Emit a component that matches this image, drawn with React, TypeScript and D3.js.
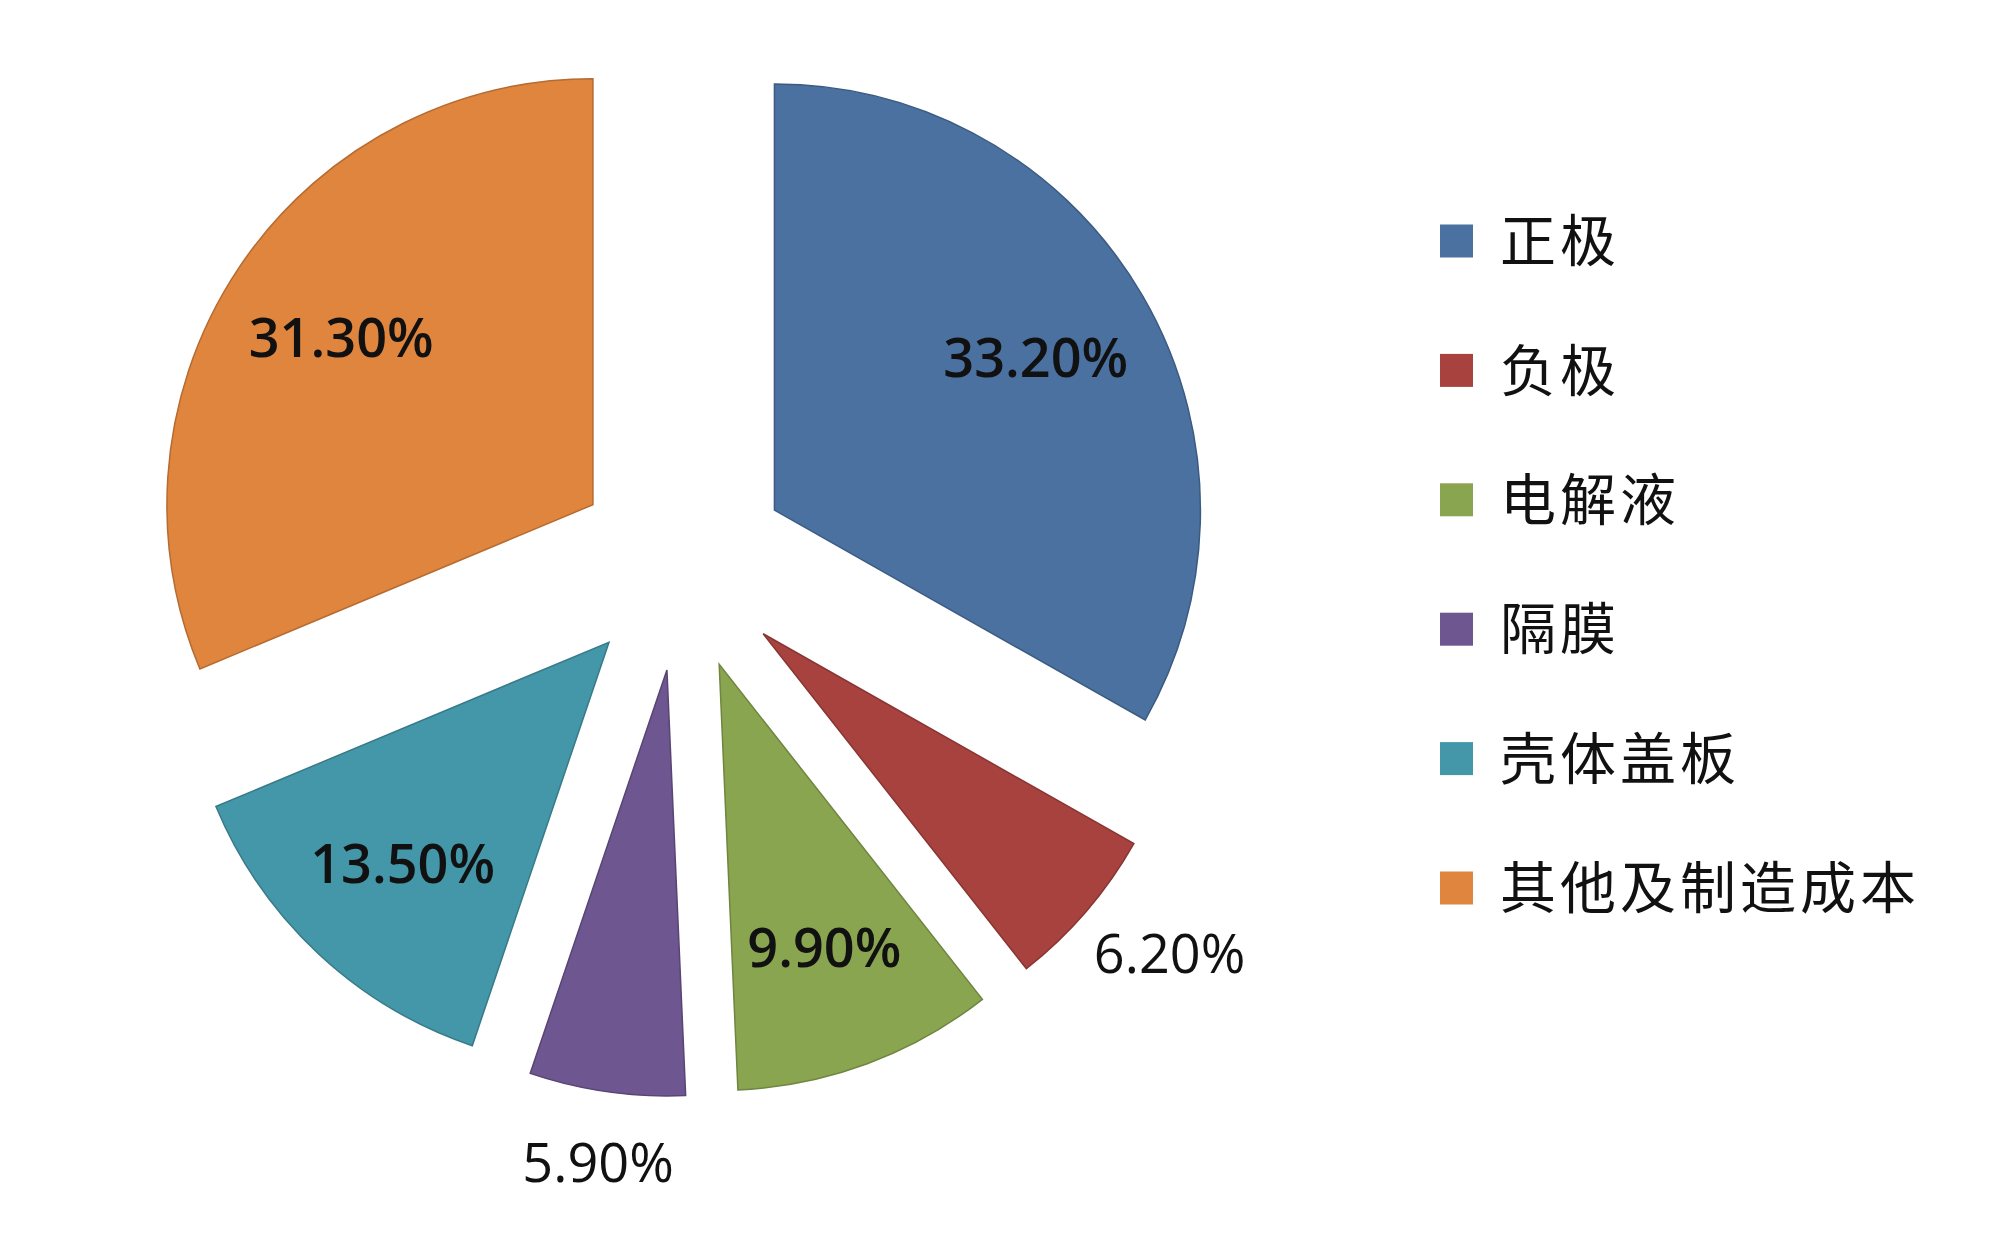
import * as d3 from "d3";

const categories = ["正极", "负极", "电解液", "隔膜", "壳体盖板", "其他及制造成本"];
const shares = [33.2, 6.2, 9.9, 5.9, 13.5, 31.3];
const labels = ["33.20%", "6.20%", "9.90%", "5.90%", "13.50%", "31.30%"];
const colors = ["#4A71A0", "#A8423F", "#8AA54F", "#6E5690", "#4497A8", "#E0853D"];

const width = 2000, height = 1260;
const cx = 682, cy = 564;
const radius = 426;
const explode = 107;
const labelSize = 54;

export default function App() {
  const pie = d3.pie<number>().sort(null).value(d => d);
  const arcs = pie(shares);
  const arc = d3.arc<d3.PieArcDatum<number>>().innerRadius(0).outerRadius(radius);
  const insideArc = d3.arc<d3.PieArcDatum<number>>().innerRadius(radius * 0.71).outerRadius(radius * 0.71);

  const legendY = d3.scalePoint<string>().domain(categories).range([241, 888]);

  // outside labels: text box sits just beyond the arc, pushed out by half its size
  const outsidePos = (mid: number, text: string) => {
    const r = radius + 52;
    const w = text.length * labelSize * 0.566;
    const h = labelSize * 0.72;
    return [Math.sin(mid) * (r + w / 2 * Math.abs(Math.sin(mid))),
            -Math.cos(mid) * (r + h / 2 * Math.abs(Math.cos(mid)))];
  };

  return (
    <svg width={width} height={height} style={{ position: "absolute", left: 0, top: 0, background: "#fff" }}>
      <g transform={`translate(${cx},${cy})`}>
        {arcs.map((a, i) => {
          const mid = (a.startAngle + a.endAngle) / 2;
          const dx = Math.sin(mid) * explode;
          const dy = -Math.cos(mid) * explode;
          const inside = a.data > 7;
          const [lx, ly] = inside ? insideArc.centroid(a) : outsidePos(mid, labels[i]);
          return (
            <g key={categories[i]} transform={`translate(${dx},${dy})`}>
              <path d={arc(a) ?? ""} fill={colors[i]} stroke={d3.color(colors[i])!.darker(0.6).formatHex()} strokeWidth={1.5} />
              <text
                x={lx}
                y={ly}
                dy="0.36em"
                textAnchor="middle"
                fontFamily="'Open Sans', 'Noto Sans', sans-serif"
                fontSize={labelSize}
                fontWeight={inside ? 600 : 400}
                fill="#111"
              >
                {labels[i]}
              </text>
            </g>
          );
        })}
      </g>
      <g>
        {categories.map((c, i) => (
          <g key={c} transform={`translate(1440,${legendY(c)})`}>
            <rect x={0} y={-16.5} width={33} height={33} fill={colors[i]} />
            <text
              x={60}
              dy="0.36em"
              fontFamily="'Noto Sans CJK SC', sans-serif"
              fontSize={56}
              letterSpacing={4}
              fill="#111"
            >
              {c}
            </text>
          </g>
        ))}
      </g>
    </svg>
  );
}
